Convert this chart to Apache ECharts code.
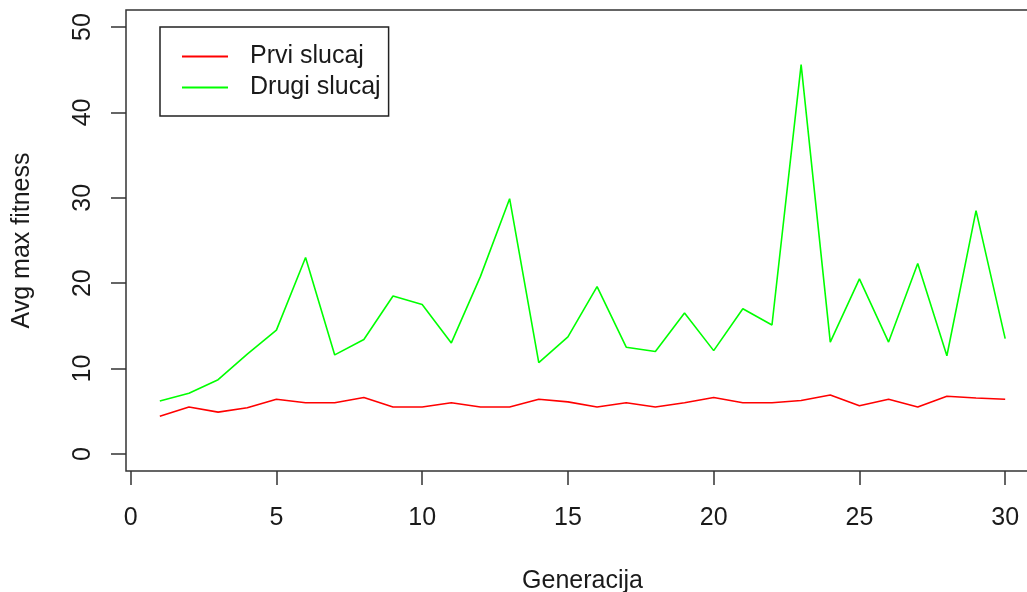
<!DOCTYPE html>
<html>
<head>
<meta charset="utf-8">
<script src="https://cdn.jsdelivr.net/npm/echarts@6/dist/echarts.min.js"></script>
<style>
html,body{margin:0;padding:0;background:#fff;overflow:hidden;}
#chart{width:1027px;height:592px;}
</style>
</head>
<body>
<div id="chart"></div>
<script>
const generations = [1,2,3,4,5,6,7,8,9,10,11,12,13,14,15,16,17,18,19,20,21,22,23,24,25,26,27,28,29,30];
const prviSlucaj = [4.4,5.5,4.9,5.4,6.4,6.0,6.0,6.6,5.5,5.5,6.0,5.5,5.5,6.4,6.1,5.5,6.0,5.5,6.0,6.6,6.0,6.0,6.25,6.9,5.65,6.4,5.5,6.75,6.55,6.4];
const drugiSlucaj = [6.2,7.1,8.7,11.7,14.5,23.0,11.6,13.4,18.5,17.5,13.0,20.8,29.9,10.7,13.7,19.6,12.5,12.0,16.5,12.1,17.0,15.1,45.6,13.1,20.5,13.1,22.3,11.5,28.5,13.5];
const xTicks = [0,5,10,15,20,25,30];
const yTicks = [0,10,20,30,40,50];
const seriesNames = ['Prvi slucaj','Drugi slucaj'];

const font = "'Liberation Sans', Arial, sans-serif";
const txt = '#1a1a1a';
const fs = 25;
const chart = echarts.init(document.getElementById('chart'), null, {renderer:'canvas'});
chart.setOption({
  animation:false,
  backgroundColor:'#fff',
  grid:{left:126, top:10, right:-12, bottom:121, show:true, borderColor:'#333', borderWidth:1.5, backgroundColor:'transparent', containLabel:false, outerBoundsMode:'none'},
  legend:{
    left:160, top:27, orient:'vertical',
    data:seriesNames,
    backgroundColor:'#fff',
    borderColor:'#222', borderWidth:1.5, borderRadius:0,
    padding:[14,8,13,22],
    itemGap:0, itemWidth:46, itemHeight:2,
    icon:'rect',
    textStyle:{fontFamily:font, fontSize:fs, color:txt, lineHeight:31, padding:[0,0,0,17]}
  },
  xAxis:{
    type:'value', min:-0.16, max:31.16,
    name:'Generacija', nameLocation:'middle', nameGap:98,
    nameTextStyle:{fontFamily:font, fontSize:fs, color:txt},
    splitLine:{show:false},
    axisLine:{show:false, onZero:false},
    axisTick:{show:true, inside:false, length:14, lineStyle:{color:'#333', width:1.5}, customValues:xTicks},
    axisLabel:{fontFamily:font, fontSize:fs, color:txt, margin:35, customValues:xTicks, formatter:v=>String(v)}
  },
  yAxis:{
    type:'value', min:-2, max:52,
    name:'Avg max fitness', nameLocation:'middle', nameGap:91, nameRotate:90,
    nameTextStyle:{fontFamily:font, fontSize:fs, color:txt},
    splitLine:{show:false},
    axisLine:{show:false, onZero:false},
    axisTick:{show:true, inside:false, length:15, lineStyle:{color:'#333', width:1.5}, customValues:yTicks},
    axisLabel:{fontFamily:font, fontSize:fs, color:txt, margin:30, rotate:90, customValues:yTicks, formatter:v=>String(v)}
  },
  series:[
    {name:seriesNames[0], type:'line', data:generations.map((g,i)=>[g,prviSlucaj[i]]), showSymbol:false, symbol:'none', itemStyle:{color:'#ff0000'}, lineStyle:{color:'#ff0000', width:1.6}},
    {name:seriesNames[1], type:'line', data:generations.map((g,i)=>[g,drugiSlucaj[i]]), showSymbol:false, symbol:'none', itemStyle:{color:'#00ff00'}, lineStyle:{color:'#00ff00', width:1.6}}
  ]
});
</script>
</body>
</html>
